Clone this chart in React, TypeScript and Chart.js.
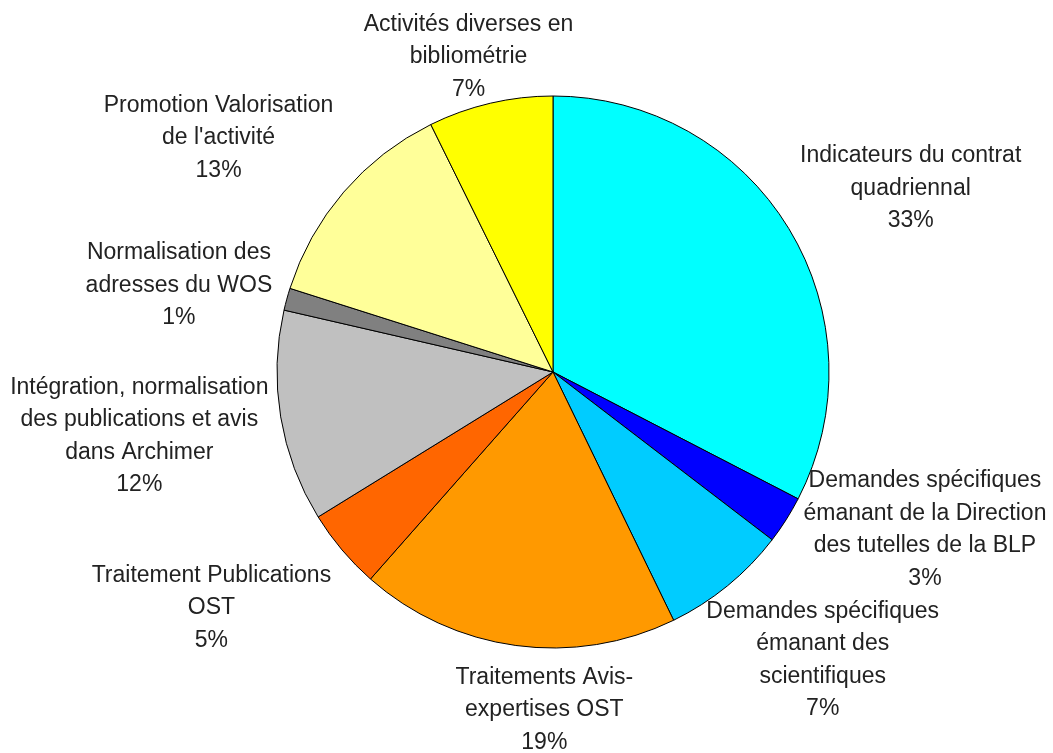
import React, { useEffect, useRef } from "react";
import { Chart, registerables } from "chart.js";

Chart.register(...registerables);

// Category labels (multi-line), in drawing order starting at 12 o'clock, clockwise
const categories: string[][] = [
  ["Indicateurs du contrat", "quadriennal"],
  ["Demandes spécifiques", "émanant de la Direction", "des tutelles de la BLP"],
  ["Demandes spécifiques", "émanant des", "scientifiques"],
  ["Traitements Avis-", "expertises OST"],
  ["Traitement Publications", "OST"],
  ["Intégration, normalisation", "des publications et avis", "dans Archimer"],
  ["Normalisation des", "adresses du WOS"],
  ["Promotion Valorisation", "de l'activité"],
  ["Activités diverses en", "bibliométrie"],
];

// Share of activity (%)
const shares: number[] = [32.6, 2.8, 7.4, 18.7, 4.7, 12.4, 1.3, 12.8, 7.3];

const sliceColors: string[] = [
  "#00FFFF",
  "#0000FF",
  "#00CCFF",
  "#FF9900",
  "#FF6600",
  "#C0C0C0",
  "#808080",
  "#FFFF99",
  "#FFFF00",
];

// Small hand adjustments of the outside labels (Excel "best fit" placement)
const labelNudges: number[][] = [
  [24, -12.5],
  [33, -27],
  [19, 21],
  [41, 12],
  [-36, 24],
  [-10, 8],
  [-14, 0],
  [-35, -20],
  [3, 5],
];

const LABEL_FONT = '23px "Liberation Sans", Arial, sans-serif';
const LINE_HEIGHT = 32.5;
const LABEL_GAP = 4;

const outsideLabels = {
  id: "outsideLabels",
  afterDatasetsDraw(chart: any) {
    const ctx: CanvasRenderingContext2D = chart.ctx;
    const meta = chart.getDatasetMeta(0);
    const data: number[] = chart.data.datasets[0].data;
    const total = data.reduce((a, b) => a + b, 0);
    ctx.save();
    ctx.font = LABEL_FONT;
    ctx.fillStyle = "#222222";
    ctx.textAlign = "center";
    ctx.textBaseline = "middle";
    meta.data.forEach((arc: any, i: number) => {
      const { x, y, startAngle, endAngle, outerRadius } = arc.getProps(
        ["x", "y", "startAngle", "endAngle", "outerRadius"],
        true
      );
      const mid = (startAngle + endAngle) / 2;
      const dx = Math.cos(mid);
      const dy = Math.sin(mid);
      const ax = x + dx * (outerRadius + LABEL_GAP);
      const ay = y + dy * (outerRadius + LABEL_GAP);
      const pct = Math.round((data[i] / total) * 100) + "%";
      const lines = [...categories[i], pct];
      const w = Math.max(...lines.map((l) => ctx.measureText(l).width));
      const h = lines.length * LINE_HEIGHT;
      const nudge = labelNudges[i] || [0, 0];
      const cx = ax + (dx * w) / 2 + nudge[0];
      const cy = ay + (dy * h) / 2 + nudge[1];
      lines.forEach((line, k) => {
        const ly = cy + (k - (lines.length - 1) / 2) * LINE_HEIGHT;
        ctx.fillText(line, cx, ly);
      });
    });
    ctx.restore();
  },
};

export default function App() {
  const canvasRef = useRef<HTMLCanvasElement | null>(null);

  useEffect(() => {
    if (!canvasRef.current) return;
    const chart = new Chart(canvasRef.current, {
      type: "pie",
      data: {
        labels: categories,
        datasets: [
          {
            data: shares,
            backgroundColor: sliceColors,
            borderColor: "#000000",
            borderWidth: 1,
          },
        ],
      },
      options: {
        animation: false,
        responsive: true,
        maintainAspectRatio: false,
        devicePixelRatio: 1,
        radius: 276,
        layout: { padding: { left: 53, right: 0, top: 0, bottom: 9 } },
        plugins: {
          legend: { display: false },
          tooltip: { enabled: false },
        },
      } as any,
      plugins: [outsideLabels],
    });
    return () => chart.destroy();
  }, []);

  return (
    <div
      style={{
        position: "fixed",
        left: 0,
        top: 0,
        width: "1053px",
        height: "753px",
        background: "#ffffff",
      }}
    >
      <canvas ref={canvasRef} />
    </div>
  );
}
